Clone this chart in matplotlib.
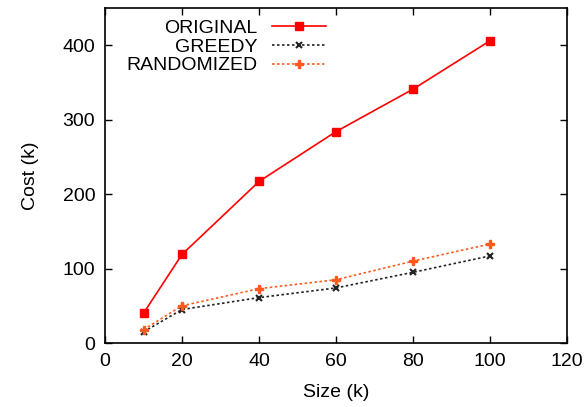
import matplotlib
matplotlib.use("Agg")
import matplotlib.pyplot as plt

plt.rcParams['font.family'] = ['Liberation Sans', 'DejaVu Sans']

sizes = [10, 20, 40, 60, 80, 100]
original = [40, 119, 217, 284, 341, 406]
greedy = [15, 45, 61, 74, 95, 117]
randomized = [18, 50, 73, 85, 110, 133]

fig = plt.figure(figsize=(5.88, 4.07), dpi=100)
ax = fig.add_axes([0.1786, 0.1572, 0.9643 - 0.1786, 0.9803 - 0.1572])

ax.plot(sizes, original, color='#ff0000', lw=1.2, marker='s', ms=6, label='ORIGINAL')
ax.plot(sizes, greedy, color='#222222', lw=1.2, ls=(0, (1.5, 1.5)), marker='x', ms=5,
        mew=1.5, label='GREEDY')
ax.plot(sizes, randomized, color='#ff5a1e', lw=1.2, ls=(0, (1.5, 1.5)), marker='P', ms=6,
        label='RANDOMIZED')

ax.set_xlim(0, 120)
ax.set_ylim(0, 450)
ax.set_xticks([0, 20, 40, 60, 80, 100, 120])
ax.set_yticks([0, 100, 200, 300, 400])
ax.tick_params(direction='in', top=True, right=True, length=5, width=1,
               labelsize=14, pad=7)
for s in ax.spines.values():
    s.set_linewidth(1.2)

ax.set_xlabel('Size (k)', fontsize=14, labelpad=10)
ax.set_ylabel('Cost (k)', fontsize=14, labelpad=17)

ax.legend(loc='upper left', bbox_to_anchor=(0.02, 1.0), frameon=False, markerfirst=False,
          fontsize=14, handlelength=2.8, labelspacing=0.05, handletextpad=0.75,
          borderaxespad=0.2)

fig.savefig('out.png', dpi=100)
